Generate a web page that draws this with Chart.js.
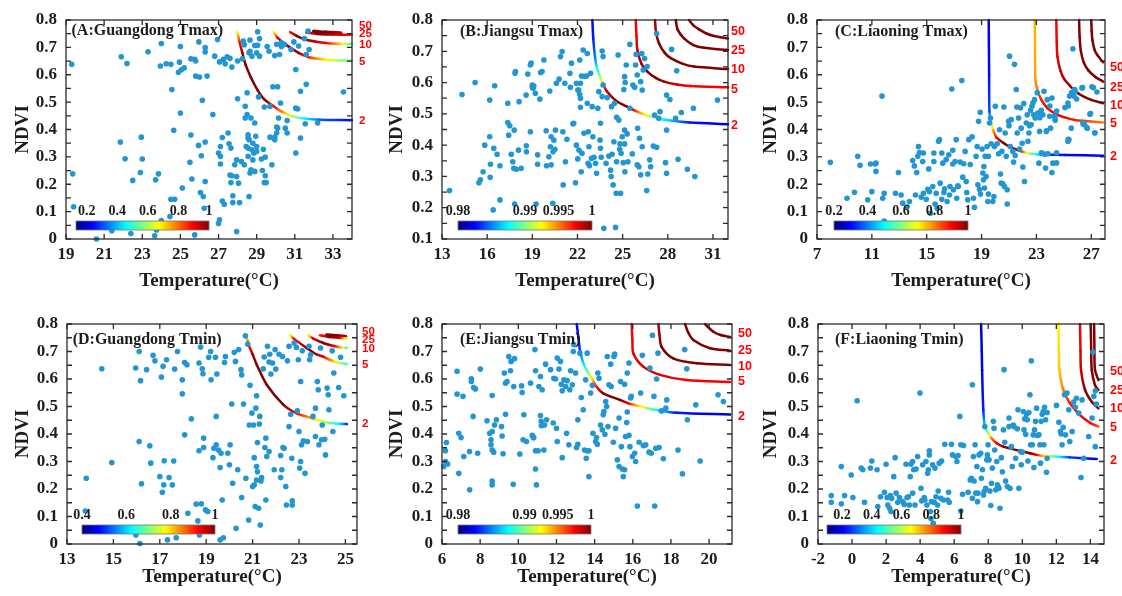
<!DOCTYPE html>
<html>
<head>
<meta charset="utf-8">
<script src="https://cdn.jsdelivr.net/npm/chart.js@4.4.0/dist/chart.umd.min.js"></script>
<style>
  body { margin: 0; background: #fff; overflow: hidden; }
  #wrap { position: relative; width: 1122px; height: 596px; overflow: hidden; }
  canvas { position: absolute; }
</style>
</head>
<body>
<div id="wrap">
  <canvas id="cA" width="386" height="298" style="left:0;top:0"></canvas>
  <canvas id="cB" width="386" height="298" style="left:374px;top:0"></canvas>
  <canvas id="cC" width="374" height="298" style="left:748px;top:0"></canvas>
  <canvas id="cD" width="386" height="298" style="left:0;top:298px"></canvas>
  <canvas id="cE" width="386" height="298" style="left:374px;top:298px"></canvas>
  <canvas id="cF" width="374" height="298" style="left:748px;top:298px"></canvas>
</div>
<script>
// ---- data ----
const LEVELS = ['2', '5', '10', '25', '50'];

// tick labels
const xTicksA = [19, 21, 23, 25, 27, 29, 31, 33];
const xTicksB = [13, 16, 19, 22, 25, 28, 31];
const xTicksC = [7, 11, 15, 19, 23, 27];
const xTicksD = [13, 15, 17, 19, 21, 23, 25];
const xTicksE = [6, 8, 10, 12, 14, 16, 18, 20];
const xTicksF = [-2, 0, 2, 4, 6, 8, 10, 12, 14];
const yTicks = [0, 0.1, 0.2, 0.3, 0.4, 0.5, 0.6, 0.7, 0.8];
const yTicksB = [0.1, 0.2, 0.3, 0.4, 0.5, 0.6, 0.7, 0.8];

// colorbar labels
const cbTextA = ['0.2', '0.4', '0.6', '0.8', '1'];
const cbValsA = [0.2, 0.4, 0.6, 0.8, 1];
const cbTextD = ['0.4', '0.6', '0.8', '1'];
const cbValsD = [0.4, 0.6, 0.8, 1];
const cbTextB = ['0.98', '0.99', '0.995', '1'];
const cbValsB = [0.98, 0.99, 0.995, 1];

// y value where each contour label sits (order of LEVELS)
const labYA = [0.432, 0.648, 0.709, 0.748, 0.778];
const labYB = [0.464, 0.579, 0.642, 0.702, 0.763];
const labYC = [0.300, 0.420, 0.486, 0.554, 0.627];
const labYD = [0.436, 0.652, 0.710, 0.743, 0.773];
const labYE = [0.465, 0.590, 0.645, 0.703, 0.766];
const labYF = [0.305, 0.424, 0.491, 0.557, 0.627];

// contour curves: [temperature, ndvi, colour value 0..1]
const curvesA = [
  [[27.98,0.756,0.62],[28.1,0.72,0.85],[28.25,0.68,0.97],[28.42,0.637,1],[28.7,0.59,1],[29.04,0.545,1],[29.4,0.51,1],[29.83,0.488,0.9],[30.3,0.466,0.75],[30.88,0.448,0.55],[31.5,0.44,0.38],[32.3,0.436,0.22],[34,0.434,0.13]],
  [[29.88,0.756,0.6],[30.1,0.735,0.9],[30.53,0.71,1],[31.2,0.68,0.97],[31.7,0.665,0.85],[32.1,0.659,0.75],[32.8,0.654,0.6],[34,0.651,0.45]],
  [[30.75,0.756,0.85],[31.1,0.742,1],[31.58,0.728,0.98],[32.63,0.716,0.88],[33.3,0.713,0.7],[34,0.712,0.42]],
  [[31.6,0.754,0.88],[32.2,0.749,1],[33,0.747,0.95],[34,0.746,0.85]],
  [[32.0,0.758,1],[32.6,0.754,1],[33.4,0.752,0.95]]
];
const curvesB = [
  [[22.99,0.8,0.13],[23.05,0.74,0.15],[23.17,0.68,0.25],[23.3,0.645,0.38],[23.55,0.613,0.55],[23.72,0.593,0.8],[23.95,0.572,0.95],[24.6,0.54,1],[25.27,0.524,1],[25.71,0.513,0.88],[26.16,0.503,0.72],[26.6,0.495,0.6],[27.27,0.487,0.45],[27.82,0.481,0.36],[29.48,0.472,0.15],[32,0.467,0.07]],
  [[25.87,0.8,0.88],[25.92,0.75,0.88],[25.98,0.704,0.92],[26.25,0.66,0.97],[26.64,0.635,1],[27.2,0.615,1],[27.75,0.603,0.97],[28.6,0.594,0.92],[29.5,0.589,0.88],[32,0.585,0.88]],
  [[27.15,0.8,0.95],[27.22,0.76,0.97],[27.42,0.725,1],[27.8,0.695,1],[28.2,0.678,1],[29,0.66,1],[29.74,0.651,1],[32,0.643,1]],
  [[28.53,0.8,1],[28.65,0.77,1],[29.08,0.741,1],[29.7,0.72,1],[30.41,0.711,1],[32,0.704,1]],
  [[29.41,0.8,1],[29.7,0.783,1],[30.08,0.77,1],[30.6,0.756,1],[31.07,0.749,1],[32,0.741,1]]
];
const curvesC = [
  [[19.52,0.8,0.12],[19.55,0.6,0.13],[19.57,0.466,0.2],[19.65,0.44,0.35],[19.74,0.418,0.55],[19.86,0.395,0.72],[20.1,0.37,0.88],[20.6,0.351,1],[21.0,0.338,1],[21.57,0.326,0.95],[21.95,0.319,0.82],[22.3,0.314,0.62],[22.66,0.311,0.48],[23.1,0.309,0.36],[23.75,0.308,0.18],[25.07,0.307,0.13],[27.86,0.304,0.12]],
  [[22.88,0.8,0.7],[22.9,0.7,0.7],[22.93,0.581,0.72],[23.1,0.54,0.78],[23.36,0.508,0.85],[23.8,0.478,0.88],[24.34,0.459,0.88],[25.0,0.445,0.88],[25.8,0.435,0.85],[27.86,0.426,0.75]],
  [[24.45,0.8,0.88],[24.48,0.72,0.88],[24.53,0.666,0.9],[24.75,0.615,0.93],[25.07,0.581,0.96],[26.04,0.532,1],[27.0,0.508,1],[27.86,0.496,1]],
  [[26.11,0.8,1],[26.15,0.74,1],[26.23,0.69,1],[26.45,0.645,1],[26.77,0.617,1],[27.3,0.592,1],[27.86,0.575,1]],
  [[27.0,0.8,1],[27.03,0.76,1],[27.08,0.727,1],[27.25,0.69,1],[27.44,0.672,1],[27.86,0.646,1]]
];
const curvesD = [
  [[20.72,0.759,0.62],[20.85,0.72,0.85],[21.0,0.69,0.97],[21.18,0.652,1],[21.61,0.579,1],[22.32,0.507,1],[22.9,0.475,0.88],[23.47,0.46,0.72],[23.9,0.448,0.6],[24.34,0.44,0.48],[24.77,0.437,0.35],[25.06,0.436,0.15]],
  [[22.61,0.759,0.62],[22.8,0.745,0.88],[23.33,0.713,1],[23.75,0.69,0.97],[24.05,0.681,0.88],[24.34,0.669,0.75],[24.62,0.661,0.6],[25.06,0.655,0.42]],
  [[23.4,0.759,0.6],[23.6,0.748,0.9],[24.05,0.731,1],[24.5,0.72,0.9],[24.8,0.715,0.7],[25.06,0.713,0.42]],
  [[23.9,0.759,0.85],[24.3,0.753,1],[24.7,0.75,0.95],[25.06,0.748,0.55]],
  [[24.2,0.759,1],[24.6,0.756,1],[25.0,0.754,0.95]]
];
const curvesE = [
  [[13.06,0.8,0.13],[13.15,0.75,0.14],[13.23,0.705,0.18],[13.41,0.657,0.35],[13.67,0.621,0.5],[13.85,0.603,0.65],[14.1,0.572,0.85],[14.45,0.548,1],[15.33,0.524,1],[15.76,0.512,0.88],[16.12,0.505,0.72],[16.47,0.499,0.62],[16.81,0.493,0.5],[17.25,0.487,0.38],[18.3,0.477,0.15],[21.1,0.471,0.08]],
  [[15.94,0.8,0.88],[15.98,0.74,0.88],[16.03,0.693,0.9],[16.55,0.645,0.92],[17.43,0.615,0.9],[18.82,0.596,0.88],[21.1,0.589,0.88]],
  [[17.34,0.8,0.95],[17.4,0.76,0.97],[17.51,0.717,1],[18.12,0.675,1],[19.35,0.657,1],[21.1,0.651,1]],
  [[18.74,0.8,1],[18.9,0.77,1],[19.17,0.742,1],[20.05,0.712,1],[21.1,0.703,1]],
  [[19.78,0.8,1],[20.22,0.772,1],[20.6,0.76,1],[21.1,0.753,1]]
];
const curvesF = [
  [[7.58,0.8,0.08],[7.62,0.7,0.1],[7.64,0.633,0.12],[7.71,0.487,0.15],[7.81,0.427,0.35],[8.01,0.402,0.55],[8.2,0.384,0.75],[8.5,0.366,0.88],[8.89,0.354,1],[10.46,0.33,1],[10.85,0.324,0.88],[11.14,0.321,0.72],[11.44,0.32,0.62],[11.73,0.319,0.5],[12.12,0.317,0.38],[12.8,0.315,0.18],[14.37,0.309,0.1]],
  [[12.12,0.8,0.63],[12.15,0.7,0.66],[12.18,0.633,0.68],[12.41,0.56,0.75],[12.8,0.512,0.85],[13.39,0.469,0.88],[14.0,0.44,0.88],[14.47,0.427,0.8]],
  [[13.39,0.8,0.88],[13.42,0.7,0.9],[13.45,0.633,0.93],[13.69,0.56,0.98],[14.08,0.517,1],[14.47,0.493,1]],
  [[14.02,0.8,1],[14.05,0.7,1],[14.08,0.633,1],[14.27,0.578,1],[14.47,0.56,1]],
  [[14.22,0.8,1],[14.24,0.7,1],[14.27,0.633,1],[14.47,0.596,1]]
];

// scatter points: [temperature, ndvi]
const ptsA = [[19.3,0.638],[19.35,0.238],[19.4,0.118],[20.6,0.0],[21.4,0.03],[21.9,0.666],[22.2,0.641],[21.85,0.354],[22.1,0.293],[22.4,0.02],[22.5,0.214],[22.9,0.243],[22.95,0.372],[23.0,0.292],[23.3,0.684],[23.2,0.045],[23.65,0.012],[23.7,0.216],[23.85,0.238],[23.75,0.033],[24.0,0.714],[23.95,0.632],[24.25,0.64],[24.0,0.067],[24.45,0.082],[24.5,0.638],[24.5,0.145],[24.55,0.546],[24.65,0.397],[24.7,0.145],[24.9,0.609],[24.95,0.646],[25.0,0.703],[25.0,0.46],[25.1,0.186],[25.05,0.618],[25.2,0.625],[25.5,0.28],[25.55,0.38],[25.6,0.219],[25.55,0.658],[25.75,0.656],[25.8,0.65],[25.75,0.015],[25.8,0.595],[25.95,0.342],[25.97,0.72],[26.0,0.592],[26.05,0.17],[26.1,0.304],[26.15,0.507],[26.2,0.155],[26.3,0.683],[26.3,0.699],[26.3,0.354],[26.3,0.21],[26.4,0.595],[26.25,0.112],[26.7,0.455],[26.8,0.668],[26.95,0.729],[27.0,0.314],[27.0,0.057],[27.05,0.07],[27.05,0.647],[27.1,0.274],[27.1,0.302],[27.1,0.338],[27.2,0.371],[27.25,0.656],[27.2,0.139],[27.3,0.127],[27.35,0.64],[27.45,0.666],[27.5,0.387],[27.6,0.66],[27.55,0.348],[27.6,0.234],[27.65,0.206],[27.65,0.332],[27.7,0.231],[27.7,0.628],[27.75,0.158],[27.75,0.133],[27.85,0.271],[27.95,0.289],[27.95,0.027],[27.95,0.228],[28.0,0.65],[28.0,0.512],[28.05,0.204],[28.1,0.133],[28.2,0.283],[28.25,0.658],[28.3,0.723],[28.35,0.71],[28.35,0.271],[28.4,0.442],[28.4,0.485],[28.45,0.338],[28.5,0.455],[28.5,0.534],[28.55,0.381],[28.55,0.369],[28.55,0.332],[28.55,0.302],[28.6,0.363],[28.6,0.155],[28.6,0.68],[28.65,0.727],[28.65,0.241],[28.65,0.686],[28.7,0.442],[28.7,0.253],[28.75,0.668],[28.75,0.326],[28.8,0.35],[28.8,0.289],[28.85,0.314],[28.9,0.707],[28.9,0.424],[28.9,0.247],[28.95,0.375],[29.0,0.68],[29.0,0.338],[29.0,0.32],[29.05,0.708],[29.05,0.757],[29.1,0.519],[29.15,0.732],[29.15,0.668],[29.25,0.292],[29.3,0.25],[29.35,0.328],[29.4,0.482],[29.4,0.206],[29.45,0.231],[29.45,0.299],[29.5,0.206],[29.55,0.703],[29.65,0.686],[29.7,0.372],[29.7,0.485],[29.8,0.271],[29.85,0.556],[29.95,0.67],[29.95,0.372],[29.95,0.363],[30.05,0.409],[30.1,0.556],[30.05,0.387],[30.05,0.711],[30.1,0.405],[30.15,0.442],[30.2,0.674],[30.25,0.497],[30.3,0.703],[30.3,0.717],[30.45,0.711],[30.5,0.405],[30.6,0.433],[30.6,0.387],[30.8,0.692],[30.95,0.72],[31.05,0.619],[31.05,0.314],[31.05,0.478],[31.15,0.475],[31.2,0.705],[31.3,0.54],[31.3,0.369],[31.5,0.732],[31.55,0.421],[31.6,0.674],[31.6,0.565],[31.7,0.76],[31.75,0.692],[32.2,0.424],[33.55,0.537]];

const ptsB = [[13.5,0.255],[14.33,0.562],[15.2,0.6],[15.45,0.28],[15.55,0.289],[15.73,0.315],[15.84,0.4],[16.17,0.544],[16.17,0.427],[16.2,0.297],[16.22,0.339],[16.4,0.193],[16.44,0.39],[16.5,0.59],[16.66,0.371],[16.85,0.225],[16.85,0.334],[17.37,0.534],[17.37,0.472],[17.43,0.432],[17.5,0.462],[17.6,0.371],[17.7,0.347],[17.77,0.326],[17.8,0.448],[17.85,0.63],[17.88,0.635],[17.83,0.212],[17.94,0.323],[18.12,0.539],[18.08,0.384],[18.26,0.326],[18.59,0.56],[18.6,0.398],[18.61,0.379],[18.7,0.627],[18.87,0.656],[18.87,0.443],[18.92,0.662],[19.0,0.585],[19.0,0.592],[19.05,0.582],[19.1,0.589],[19.2,0.566],[19.25,0.212],[19.35,0.339],[19.35,0.369],[19.5,0.547],[19.55,0.632],[19.65,0.635],[19.77,0.672],[19.92,0.446],[19.94,0.334],[20.1,0.363],[20.16,0.573],[20.2,0.395],[20.25,0.427],[20.25,0.337],[20.38,0.379],[20.36,0.214],[20.43,0.416],[20.5,0.387],[20.54,0.448],[20.6,0.598],[20.78,0.611],[20.87,0.683],[20.98,0.699],[21.03,0.443],[21.05,0.273],[21.16,0.598],[21.2,0.347],[21.3,0.419],[21.5,0.63],[21.53,0.585],[21.6,0.662],[21.7,0.468],[21.75,0.47],[21.87,0.28],[21.93,0.4],[21.93,0.598],[22.02,0.576],[22.02,0.356],[22.08,0.576],[22.1,0.384],[22.15,0.562],[22.15,0.672],[22.2,0.521],[22.2,0.55],[22.2,0.598],[22.25,0.315],[22.27,0.621],[22.3,0.374],[22.38,0.704],[22.43,0.438],[22.47,0.62],[22.6,0.621],[22.65,0.534],[22.65,0.693],[22.7,0.342],[22.72,0.443],[22.76,0.395],[22.8,0.334],[22.87,0.63],[22.93,0.358],[22.98,0.523],[23.02,0.427],[23.1,0.361],[23.2,0.342],[23.27,0.31],[23.35,0.518],[23.42,0.571],[23.5,0.416],[23.53,0.39],[23.53,0.47],[23.58,0.361],[23.64,0.555],[23.64,0.701],[23.7,0.683],[23.75,0.134],[23.7,0.592],[23.9,0.342],[23.98,0.552],[24.08,0.365],[24.2,0.32],[24.24,0.3],[24.26,0.523],[24.3,0.371],[24.37,0.273],[24.42,0.411],[24.46,0.534],[24.53,0.137],[24.57,0.246],[24.6,0.489],[24.6,0.347],[24.7,0.688],[24.75,0.48],[24.8,0.387],[24.82,0.404],[24.86,0.246],[24.9,0.374],[24.97,0.427],[25.04,0.344],[25.08,0.578],[25.13,0.448],[25.13,0.404],[25.13,0.619],[25.15,0.315],[25.17,0.6],[25.24,0.656],[25.3,0.436],[25.35,0.347],[25.48,0.722],[25.48,0.518],[25.64,0.372],[25.68,0.592],[25.8,0.585],[25.86,0.656],[25.9,0.69],[25.97,0.624],[25.97,0.337],[26.0,0.454],[26.08,0.331],[26.12,0.422],[26.2,0.603],[26.2,0.305],[26.27,0.693],[26.3,0.395],[26.3,0.576],[26.37,0.64],[26.46,0.677],[26.6,0.255],[26.63,0.651],[26.67,0.308],[26.8,0.353],[26.86,0.331],[27.04,0.397],[27.12,0.496],[27.26,0.393],[27.26,0.757],[27.4,0.486],[27.48,0.507],[27.85,0.344],[27.92,0.31],[27.92,0.448],[27.92,0.56],[28.14,0.546],[28.25,0.706],[28.52,0.486],[28.59,0.638],[28.68,0.355],[28.9,0.504],[29.3,0.323],[29.7,0.518],[29.8,0.3],[31.3,0.544]];

const ptsC = [[7.97,0.28],[9.19,0.149],[9.73,0.171],[9.97,0.302],[10.14,0.269],[10.7,0.143],[10.9,0.274],[11.0,0.173],[11.23,0.274],[11.3,0.247],[11.3,0.277],[11.74,0.522],[11.79,0.149],[11.9,0.167],[11.9,0.066],[12.72,0.167],[12.94,0.243],[13.13,0.161],[13.25,0.131],[13.57,0.118],[13.74,0.137],[13.98,0.287],[14.1,0.267],[14.18,0.161],[14.27,0.243],[14.35,0.302],[14.4,0.338],[14.47,0.316],[14.6,0.153],[14.71,0.283],[14.76,0.314],[14.76,0.167],[14.96,0.145],[15.08,0.182],[15.15,0.256],[15.2,0.173],[15.27,0.094],[15.44,0.192],[15.52,0.283],[15.52,0.314],[15.61,0.128],[15.69,0.167],[15.76,0.112],[15.86,0.357],[15.93,0.363],[15.98,0.204],[16.1,0.314],[16.1,0.145],[16.17,0.277],[16.25,0.17],[16.3,0.183],[16.42,0.29],[16.49,0.137],[16.61,0.308],[16.66,0.161],[16.7,0.192],[16.83,0.548],[16.9,0.324],[16.9,0.274],[16.95,0.18],[17.07,0.283],[17.15,0.363],[17.19,0.149],[17.27,0.194],[17.3,0.192],[17.44,0.281],[17.56,0.579],[17.63,0.226],[17.7,0.275],[17.8,0.32],[17.88,0.21],[17.92,0.17],[17.99,0.143],[18.07,0.363],[18.17,0.272],[18.31,0.373],[18.41,0.149],[18.48,0.116],[18.6,0.302],[18.68,0.338],[18.73,0.198],[18.78,0.43],[18.85,0.182],[18.9,0.463],[18.92,0.164],[19.04,0.329],[19.09,0.241],[19.14,0.216],[19.17,0.265],[19.21,0.186],[19.26,0.302],[19.33,0.228],[19.4,0.338],[19.46,0.137],[19.5,0.164],[19.5,0.302],[19.58,0.424],[19.65,0.442],[19.7,0.348],[19.82,0.137],[19.9,0.155],[19.94,0.338],[20.0,0.485],[20.14,0.348],[20.24,0.311],[20.31,0.399],[20.38,0.237],[20.43,0.204],[20.48,0.32],[20.55,0.202],[20.63,0.482],[20.67,0.192],[20.72,0.387],[20.8,0.302],[20.87,0.18],[20.87,0.128],[20.97,0.43],[21.0,0.414],[21.04,0.668],[21.09,0.338],[21.16,0.436],[21.28,0.32],[21.33,0.281],[21.4,0.638],[21.45,0.305],[21.53,0.546],[21.57,0.482],[21.6,0.387],[21.7,0.442],[21.77,0.329],[21.84,0.479],[21.89,0.405],[21.96,0.35],[22.01,0.263],[22.08,0.495],[22.13,0.21],[22.26,0.424],[22.33,0.454],[22.38,0.357],[22.45,0.387],[22.5,0.414],[22.57,0.47],[22.62,0.418],[22.67,0.485],[22.74,0.497],[22.81,0.454],[22.86,0.509],[22.91,0.442],[23.06,0.534],[23.11,0.46],[23.18,0.277],[23.23,0.393],[23.35,0.47],[23.47,0.454],[23.55,0.54],[23.6,0.31],[23.67,0.259],[23.72,0.393],[23.79,0.509],[23.84,0.311],[23.96,0.448],[24.03,0.405],[24.13,0.515],[24.13,0.243],[24.2,0.277],[24.32,0.448],[24.37,0.434],[24.47,0.467],[25.3,0.357],[25.3,0.497],[25.37,0.363],[25.42,0.522],[25.54,0.405],[25.66,0.695],[25.73,0.522],[25.78,0.546],[25.83,0.54],[26.32,0.552],[26.39,0.424],[26.51,0.418],[26.71,0.405],[26.95,0.458],[27.05,0.556],[27.24,0.387],[27.41,0.537],[25.56,0.535],[25.93,0.511],[26.37,0.553],[27.15,0.553],[26.66,0.407],[26.42,0.419],[27.27,0.388],[26.9,0.456],[25.08,0.48],[25.32,0.486],[23.98,0.486],[23.25,0.443],[23.74,0.395],[24.35,0.443],[25.32,0.364],[24.47,0.315],[24.47,0.278],[23.37,0.315]];

const ptsD = [[13.83,0.239],[13.79,0.12],[14.5,0.637],[14.93,0.296],[15.96,0.64],[16.11,0.7],[16.11,0.373],[16.17,0.594],[16.21,0.219],[16.14,0.002],[15.97,0.033],[16.43,0.634],[16.57,0.357],[16.61,0.294],[16.71,0.686],[16.79,0.666],[17.0,0.245],[17.11,0.188],[17.07,0.607],[17.14,0.646],[17.17,0.215],[17.19,0.303],[17.29,0.67],[17.33,0.015],[17.4,0.242],[17.54,0.215],[17.6,0.302],[17.64,0.636],[17.76,0.7],[17.71,0.023],[17.97,0.546],[17.97,0.597],[18.07,0.397],[18.07,0.66],[18.17,0.652],[18.21,0.112],[18.36,0.455],[18.43,0.047],[18.57,0.145],[18.64,0.084],[18.69,0.339],[18.71,0.033],[18.69,0.658],[18.76,0.716],[18.79,0.146],[18.83,0.637],[18.86,0.619],[18.89,0.351],[18.89,0.385],[18.97,0.124],[19.07,0.118],[19.11,0.679],[19.19,0.7],[19.21,0.597],[19.29,0.314],[19.33,0.348],[19.4,0.679],[19.43,0.464],[19.43,0.361],[19.46,0.618],[19.53,0.342],[19.6,0.015],[19.6,0.278],[19.64,0.33],[19.69,0.16],[19.74,0.023],[19.79,0.66],[19.83,0.682],[19.93,0.33],[20.0,0.288],[20.03,0.361],[20.1,0.509],[20.14,0.221],[20.21,0.697],[20.26,0.664],[20.29,0.057],[20.36,0.27],[20.4,0.707],[20.5,0.634],[20.53,0.615],[20.53,0.169],[20.61,0.509],[20.69,0.757],[20.71,0.239],[20.79,0.727],[20.83,0.087],[20.89,0.577],[20.86,0.433],[20.97,0.476],[21.0,0.209],[21.04,0.433],[21.07,0.314],[21.07,0.215],[21.11,0.136],[21.14,0.494],[21.17,0.539],[21.17,0.282],[21.17,0.233],[21.21,0.369],[21.21,0.263],[21.26,0.13],[21.29,0.436],[21.31,0.464],[21.33,0.069],[21.36,0.229],[21.39,0.242],[21.46,0.637],[21.5,0.68],[21.53,0.351],[21.57,0.385],[21.57,0.16],[21.61,0.318],[21.64,0.719],[21.71,0.336],[21.71,0.662],[21.74,0.69],[21.79,0.618],[21.86,0.658],[21.93,0.27],[21.97,0.707],[22.0,0.636],[22.14,0.69],[22.21,0.322],[22.21,0.242],[22.26,0.27],[22.29,0.682],[22.31,0.351],[22.36,0.348],[22.43,0.209],[22.46,0.142],[22.5,0.666],[22.57,0.719],[22.57,0.427],[22.64,0.472],[22.69,0.312],[22.71,0.157],[22.71,0.142],[22.79,0.731],[22.89,0.715],[22.93,0.484],[22.97,0.67],[23.0,0.409],[23.03,0.276],[23.07,0.3],[23.07,0.591],[23.11,0.361],[23.14,0.703],[23.19,0.375],[23.26,0.257],[23.36,0.373],[23.43,0.719],[23.46,0.67],[23.5,0.688],[23.6,0.464],[23.71,0.494],[23.71,0.391],[23.79,0.591],[23.83,0.561],[23.86,0.361],[23.93,0.713],[23.97,0.379],[24.0,0.433],[24.11,0.381],[24.14,0.324],[24.21,0.567],[24.26,0.543],[24.29,0.488],[24.43,0.703],[24.46,0.409],[24.5,0.622],[24.71,0.569],[24.79,0.679],[24.93,0.539]];

const ptsE = [[6.09,0.282],[6.18,0.339],[6.23,0.369],[6.18,0.3],[6.3,0.291],[6.79,0.628],[6.79,0.545],[6.88,0.403],[6.88,0.257],[7.0,0.387],[7.1,0.537],[7.14,0.318],[7.45,0.197],[7.44,0.336],[7.54,0.601],[7.54,0.591],[7.63,0.464],[7.66,0.569],[7.75,0.564],[7.87,0.33],[8.01,0.636],[8.36,0.448],[8.5,0.403],[8.57,0.379],[8.57,0.361],[8.63,0.54],[8.63,0.342],[8.63,0.409],[8.63,0.229],[8.63,0.215],[8.71,0.334],[8.75,0.433],[8.85,0.452],[9.12,0.427],[9.15,0.393],[9.2,0.328],[9.27,0.622],[9.33,0.472],[9.33,0.585],[9.41,0.591],[9.5,0.682],[9.59,0.63],[9.62,0.664],[9.73,0.217],[9.76,0.573],[9.8,0.674],[10.08,0.327],[10.17,0.575],[10.2,0.551],[10.25,0.379],[10.29,0.47],[10.43,0.373],[10.64,0.585],[10.73,0.395],[10.78,0.387],[10.81,0.387],[10.87,0.707],[10.9,0.63],[10.9,0.273],[10.9,0.339],[10.95,0.215],[11.04,0.339],[11.08,0.573],[11.16,0.467],[11.16,0.609],[11.2,0.446],[11.21,0.43],[11.25,0.561],[11.34,0.342],[11.37,0.433],[11.43,0.654],[11.48,0.452],[11.69,0.634],[11.83,0.44],[11.86,0.603],[11.95,0.6],[12.0,0.421],[12.04,0.676],[12.04,0.373],[12.13,0.636],[12.21,0.664],[12.25,0.581],[12.3,0.557],[12.3,0.314],[12.39,0.597],[12.48,0.573],[12.53,0.403],[12.56,0.594],[12.65,0.361],[12.7,0.561],[12.74,0.63],[12.83,0.579],[12.88,0.7],[12.91,0.725],[13.0,0.622],[13.05,0.351],[13.12,0.363],[13.12,0.452],[13.23,0.694],[13.3,0.533],[13.4,0.488],[13.47,0.342],[13.53,0.597],[13.56,0.312],[13.61,0.694],[13.61,0.339],[13.7,0.339],[13.7,0.245],[13.79,0.549],[13.88,0.577],[13.91,0.403],[14.05,0.373],[14.1,0.387],[14.14,0.363],[14.17,0.622],[14.23,0.603],[14.31,0.433],[14.4,0.415],[14.45,0.47],[14.49,0.482],[14.54,0.399],[14.58,0.518],[14.63,0.5],[14.66,0.682],[14.7,0.427],[14.75,0.579],[14.84,0.654],[14.87,0.573],[14.98,0.37],[15.01,0.682],[15.05,0.691],[15.1,0.421],[15.19,0.306],[15.28,0.458],[15.28,0.282],[15.36,0.591],[15.4,0.354],[15.45,0.273],[15.5,0.245],[15.57,0.581],[15.57,0.27],[15.62,0.391],[15.68,0.442],[15.71,0.48],[15.71,0.622],[15.8,0.658],[15.8,0.395],[15.85,0.354],[15.89,0.531],[15.92,0.537],[15.98,0.318],[16.1,0.33],[16.15,0.3],[16.24,0.138],[16.33,0.37],[16.41,0.549],[16.5,0.686],[16.55,0.358],[16.59,0.358],[16.68,0.361],[16.85,0.334],[16.9,0.64],[16.97,0.33],[17.03,0.759],[17.11,0.537],[17.15,0.138],[17.2,0.348],[17.25,0.6],[17.32,0.694],[17.38,0.351],[17.5,0.484],[17.6,0.31],[17.73,0.494],[17.78,0.524],[18.37,0.342],[18.6,0.255],[18.72,0.707],[18.83,0.637],[18.86,0.452],[19.3,0.506],[19.53,0.302],[20.47,0.543],[20.75,0.518]];

const ptsF = [[-1.22,0.176],[-1.22,0.152],[-0.63,0.282],[-0.44,0.176],[-0.63,0.146],[-0.05,0.251],[0.05,0.169],[0.3,0.521],[0.54,0.276],[0.63,0.27],[0.73,0.152],[1.08,0.276],[1.16,0.302],[1.47,0.27],[1.51,0.136],[1.67,0.172],[1.9,0.188],[2.0,0.29],[2.06,0.169],[2.1,0.142],[2.2,0.13],[2.25,0.176],[2.33,0.166],[2.29,0.118],[2.45,0.245],[2.53,0.314],[2.59,0.185],[2.68,0.152],[2.78,0.169],[2.98,0.154],[3.07,0.144],[3.17,0.29],[3.23,0.169],[3.31,0.172],[3.37,0.142],[3.42,0.245],[3.46,0.29],[3.56,0.3],[3.56,0.185],[3.62,0.27],[3.7,0.142],[3.76,0.273],[3.85,0.318],[3.99,0.549],[4.05,0.203],[4.09,0.157],[4.15,0.288],[4.24,0.169],[4.28,0.16],[4.34,0.3],[4.4,0.142],[4.44,0.257],[4.48,0.27],[4.54,0.339],[4.54,0.324],[4.6,0.118],[4.63,0.093],[4.67,0.154],[4.73,0.288],[4.77,0.075],[4.83,0.152],[4.87,0.276],[4.93,0.172],[5.02,0.142],[5.06,0.193],[5.12,0.294],[5.22,0.166],[5.26,0.302],[5.37,0.16],[5.45,0.363],[5.61,0.16],[5.67,0.188],[5.71,0.152],[5.84,0.363],[5.9,0.324],[6.1,0.318],[6.16,0.3],[6.23,0.322],[6.33,0.464],[6.39,0.361],[6.39,0.12],[6.49,0.181],[6.55,0.358],[6.82,0.188],[6.94,0.233],[7.01,0.239],[7.07,0.579],[7.07,0.166],[7.13,0.318],[7.17,0.229],[7.23,0.361],[7.27,0.185],[7.33,0.282],[7.37,0.154],[7.4,0.185],[7.46,0.324],[7.56,0.33],[7.6,0.239],[7.66,0.27],[7.72,0.178],[7.76,0.191],[7.8,0.427],[7.85,0.203],[7.91,0.306],[7.95,0.324],[7.99,0.361],[8.05,0.306],[8.1,0.193],[8.15,0.14],[8.19,0.221],[8.24,0.276],[8.3,0.446],[8.34,0.421],[8.38,0.342],[8.44,0.197],[8.5,0.3],[8.54,0.215],[8.58,0.209],[8.63,0.203],[8.69,0.13],[8.77,0.314],[8.83,0.263],[8.89,0.415],[8.93,0.634],[8.97,0.37],[9.02,0.229],[9.12,0.209],[9.22,0.458],[9.22,0.427],[9.28,0.203],[9.36,0.354],[9.41,0.282],[9.47,0.433],[9.51,0.427],[9.61,0.312],[9.71,0.419],[9.75,0.488],[9.8,0.203],[9.9,0.336],[9.94,0.288],[10.0,0.334],[10.06,0.482],[10.1,0.415],[10.14,0.455],[10.2,0.399],[10.25,0.472],[10.29,0.452],[10.33,0.302],[10.39,0.478],[10.45,0.543],[10.49,0.361],[10.53,0.666],[10.59,0.361],[10.64,0.397],[10.68,0.278],[10.72,0.415],[10.78,0.446],[10.84,0.494],[10.88,0.395],[10.98,0.397],[11.04,0.361],[11.07,0.294],[11.11,0.446],[11.17,0.472],[11.23,0.482],[11.27,0.361],[11.31,0.497],[11.37,0.452],[11.42,0.261],[11.46,0.312],[11.46,0.478],[12.01,0.504],[12.15,0.443],[12.24,0.409],[12.28,0.4],[12.34,0.361],[12.4,0.424],[12.48,0.543],[12.54,0.397],[12.63,0.549],[12.73,0.488],[12.79,0.373],[12.93,0.409],[13.02,0.516],[13.12,0.497],[13.18,0.53],[13.32,0.476],[13.45,0.242],[13.51,0.524],[13.61,0.312],[13.9,0.391],[14.1,0.458],[14.16,0.698],[14.2,0.537],[14.29,0.557],[14.35,0.509],[14.29,0.354]];

// ---- drawing ----
Chart.defaults.font.family = '"Liberation Serif", "Times New Roman", serif';
const INK = '#1c1c1c';
const DOT = '#2296d2';
const TICK_FONT = { size: 17, weight: 'bold' };
const LAB_FONT = { size: 19, weight: 'bold' };

function jet(t) {
  t = Math.max(0, Math.min(1, t));
  const f = v => Math.round(255 * Math.max(0, Math.min(1, v)));
  return `rgb(${f(1.5 - Math.abs(4 * t - 3))},${f(1.5 - Math.abs(4 * t - 2))},${f(1.5 - Math.abs(4 * t - 1))})`;
}

// gradient along each line segment, coloured by the c value of its end points
function segColor(ctx) {
  const d = ctx.chart.data.datasets[ctx.datasetIndex].data;
  const c0 = d[ctx.p0DataIndex].c, c1 = d[ctx.p1DataIndex].c;
  const g = ctx.chart.ctx.createLinearGradient(ctx.p0.x, ctx.p0.y, ctx.p1.x, ctx.p1.y);
  for (let i = 0; i <= 4; i++) g.addColorStop(i / 4, jet(c0 + (c1 - c0) * i / 4));
  return g;
}

function decor(o) {
  return {
    id: 'decor',
    afterDatasetsDraw(chart) {
      const { ctx, chartArea: a, scales: { x, y } } = chart;
      ctx.save();
      // frame with inward ticks
      ctx.strokeStyle = '#2a2a2a';
      ctx.lineWidth = 1.3;
      ctx.strokeRect(a.left, a.top, a.right - a.left, a.bottom - a.top);
      ctx.beginPath();
      o.xt.forEach(v => {
        const px = x.getPixelForValue(v);
        ctx.moveTo(px, a.bottom); ctx.lineTo(px, a.bottom - 5);
        ctx.moveTo(px, a.top); ctx.lineTo(px, a.top + 5);
      });
      for (let k = Math.round(o.yr[0] * 20); k <= Math.round(o.yr[1] * 20); k++) {
        const py = y.getPixelForValue(k / 20);
        ctx.moveTo(a.left, py); ctx.lineTo(a.left + 5, py);
        ctx.moveTo(a.right, py); ctx.lineTo(a.right - 5, py);
      }
      ctx.stroke();

      // panel title
      ctx.fillStyle = INK;
      ctx.font = 'bold 16px "Liberation Serif"';
      ctx.textAlign = 'left';
      ctx.textBaseline = 'middle';
      ctx.fillText(o.title, a.left + o.box.tx, a.top + o.box.ty);

      // colour bar
      const bw = o.cb.w, bh = 9;
      const bx = a.left + o.cb.x, by = a.bottom - o.cb.b - bh;
      const g = ctx.createLinearGradient(bx, 0, bx + bw, 0);
      [0, 0.125, 0.375, 0.625, 0.875, 1].forEach(t => g.addColorStop(t, jet(t)));
      ctx.fillStyle = g;
      ctx.fillRect(bx, by, bw, bh);
      ctx.strokeStyle = '#777';
      ctx.lineWidth = 0.8;
      ctx.strokeRect(bx, by, bw, bh);
      ctx.fillStyle = INK;
      ctx.font = 'bold 14px "Liberation Serif"';
      ctx.textAlign = 'center';
      ctx.textBaseline = 'alphabetic';
      o.cbVals.forEach((v, i) => {
        const t = (v - o.cbRange[0]) / (o.cbRange[1] - o.cbRange[0]);
        ctx.fillText(o.cbText[i], bx + bw * t, by - 6);
      });

      // contour level labels outside the right axis
      ctx.fillStyle = '#ff0000';
      ctx.font = `bold ${o.box.ls}px "Liberation Sans"`;
      ctx.textAlign = 'left';
      ctx.textBaseline = 'middle';
      LEVELS.forEach((t, i) => ctx.fillText(t, a.right + o.box.lx, y.getPixelForValue(o.ly[i])));
      ctx.restore();
    }
  };
}

function panel(id, o) {
  const datasets = [{
    type: 'scatter',
    data: o.pts.map(p => ({ x: p[0], y: p[1] })),
    pointRadius: 2.8,
    pointBackgroundColor: DOT,
    pointBorderWidth: 0,
    order: 0,
    clip: 6
  }];
  o.curves.forEach((cv, i) => datasets.push({
    type: 'line',
    data: cv.map(p => ({ x: p[0], y: p[1], c: p[2] })),
    showLine: true,
    borderWidth: i === 4 && o.thick ? 4 : 2.5,
    borderCapStyle: 'round',
    pointRadius: 0,
    tension: 0.3,
    fill: false,
    order: 1,
    clip: 3,
    segment: {
      borderColor: segColor,
      borderDashOffset: ctx => ctx.p0DataIndex * 0.001
    }
  }));

  new Chart(document.getElementById(id), {
    type: 'scatter',
    data: { datasets },
    options: {
      responsive: false,
      animation: false,
      events: [],
      layout: { padding: { top: o.box.top, right: o.box.right, left: 0, bottom: 0 } },
      plugins: { legend: { display: false }, tooltip: { enabled: false } },
      scales: {
        x: {
          type: 'linear', min: o.xr[0], max: o.xr[1], bounds: 'data',
          grid: { display: false, drawTicks: false },
          border: { display: false },
          afterBuildTicks: s => { s.ticks = o.xt.map(v => ({ value: v })); },
          afterFit: s => { s.height = o.box.xh; },
          ticks: { font: TICK_FONT, color: INK, padding: 5, maxRotation: 0, autoSkip: false },
          title: { display: true, text: 'Temperature(°C)', font: LAB_FONT, color: INK, padding: { top: 0, bottom: o.box.tp } }
        },
        y: {
          type: 'linear', min: o.yr[0], max: o.yr[1], bounds: 'data',
          grid: { display: false, drawTicks: false },
          border: { display: false },
          afterBuildTicks: s => { s.ticks = o.yt.map(v => ({ value: v })); },
          afterFit: s => { s.width = o.box.left; },
          ticks: { font: TICK_FONT, color: INK, padding: 9, autoSkip: false, callback: v => v === 0 ? '0' : v.toFixed(1) },
          title: { display: true, text: 'NDVI', font: LAB_FONT, color: INK, padding: { top: 12, bottom: 0 } }
        }
      }
    },
    plugins: [decor(o)]
  });
}

// canvases A, B, D, E are 12px wider than their cell so the red labels can spill over
panel('cA', {
  title: '(A:Guangdong Tmax)', pts: ptsA, curves: curvesA, thick: true,
  xr: [19, 34], yr: [0, 0.8], xt: xTicksA, yt: yTicks, ly: labYA,
  cbText: cbTextA, cbVals: cbValsA, cbRange: [0.13, 1],
  box: { left: 66, right: 34, top: 20, xh: 59, tp: 6, tx: 5.5, ty: 11, lx: 7, ls: 11.5 },
  cb: { x: 10, w: 133, b: 9 }
});
panel('cB', {
  title: '(B:Jiangsu Tmax)', pts: ptsB, curves: curvesB,
  xr: [13, 32], yr: [0.1, 0.8], xt: xTicksB, yt: yTicksB, ly: labYB,
  cbText: cbTextB, cbVals: cbValsB, cbRange: [0.98, 1],
  box: { left: 68, right: 32, top: 20, xh: 59, tp: 6, tx: 18, ty: 11.7, lx: 3, ls: 12.5 },
  cb: { x: 16, w: 134, b: 9 }
});
panel('cC', {
  title: '(C:Liaoning Tmax)', pts: ptsC, curves: curvesC,
  xr: [7, 28], yr: [0, 0.8], xt: xTicksC, yt: yTicks, ly: labYC,
  cbText: cbTextA, cbVals: cbValsA, cbRange: [0.2, 1],
  box: { left: 69, right: 17, top: 20, xh: 59, tp: 6, tx: 18, ty: 11.7, lx: 5, ls: 12.5 },
  cb: { x: 17, w: 134, b: 9 }
});
panel('cD', {
  title: '(D:Guangdong Tmin)', pts: ptsD, curves: curvesD, thick: true,
  xr: [13, 25.5], yr: [0, 0.8], xt: xTicksD, yt: yTicks, ly: labYD,
  cbText: cbTextD, cbVals: cbValsD, cbRange: [0.4, 1],
  box: { left: 67, right: 29, top: 26, xh: 52, tp: 8, tx: 5.7, ty: 15.7, lx: 5, ls: 11.5 },
  cb: { x: 15, w: 133, b: 10 }
});
panel('cE', {
  title: '(E:Jiangsu Tmin)', pts: ptsE, curves: curvesE,
  xr: [6, 21.2], yr: [0, 0.8], xt: xTicksE, yt: yTicks, ly: labYE,
  cbText: cbTextB, cbVals: cbValsB, cbRange: [0.98, 1],
  box: { left: 68, right: 28, top: 26, xh: 52, tp: 8, tx: 18, ty: 15.7, lx: 6, ls: 12.5 },
  cb: { x: 16, w: 133, b: 10 }
});
panel('cF', {
  title: '(F:Liaoning Tmin)', pts: ptsF, curves: curvesF,
  xr: [-2, 14.8], yr: [0, 0.8], xt: xTicksF, yt: yTicks, ly: labYF,
  cbText: cbTextA, cbVals: cbValsA, cbRange: [0.1, 1],
  box: { left: 70, right: 18, top: 26, xh: 52, tp: 8, tx: 17, ty: 15.7, lx: 6, ls: 12.5 },
  cb: { x: 9, w: 134, b: 10 }
});
</script>
</body>
</html>
